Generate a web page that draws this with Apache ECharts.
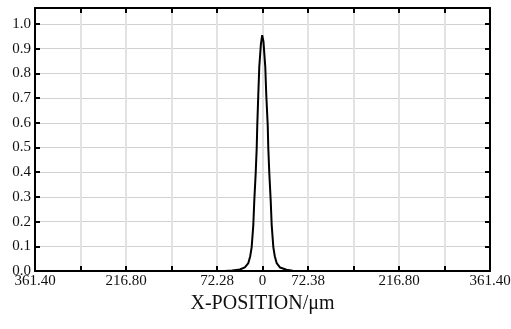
<!DOCTYPE html>
<html>
<head>
<meta charset="utf-8">
<script src="https://cdn.jsdelivr.net/npm/echarts@6/dist/echarts.min.js"></script>
<style>
  html, body { margin: 0; padding: 0; background: #fff; }
  #chart { width: 511px; height: 329px; }
</style>
</head>
<body>
<div id="chart"></div>
<script>
// beam profile
const xPositions = [-361.4, -80, -60, -48, -36, -28, -22.5, -19.5, -17.2, -14.6, -13.0, -10.8, -9.2, -8.3, -6.7, -5.1, -2.5, -0.5,
  1.5, 4.4, 6.0, 8.3, 9.2, 10.8, 13.0, 14.6, 17.2, 19.5, 22.5, 28, 38, 48, 60, 80, 361.4];
const intensity = [0, 0, 0, 0.002, 0.006, 0.015, 0.032, 0.06, 0.097, 0.186, 0.287, 0.397, 0.498, 0.59, 0.713, 0.827, 0.92, 0.955,
  0.93, 0.827, 0.713, 0.59, 0.498, 0.397, 0.287, 0.186, 0.097, 0.06, 0.032, 0.014, 0.005, 0.001, 0, 0, 0];
const xTickLabels = ["361.40", "", "216.80", "", "72.28", "0", "72.38", "", "216.80", "", "361.40"];
const xStep = 72.28;

const chart = echarts.init(document.getElementById("chart"), null, { renderer: "canvas" });
const font = "Liberation Serif";

const inTick = { show: true, inside: true, length: 5, lineStyle: { color: "#000", width: 2 } };
const frame = { show: true, onZero: false, lineStyle: { color: "#000", width: 2 } };

chart.setOption({
  animation: false,
  grid: { left: 35, right: 21, top: 8, bottom: 58, outerBoundsMode: "none", containLabel: false },
  xAxis: [
    {
      type: "value",
      position: "bottom",
      min: -5 * xStep,
      max: 5 * xStep,
      interval: xStep,
      axisLine: frame,
      axisTick: inTick,
      splitLine: { show: true, lineStyle: { color: "#e2e2e2", width: 2 } },
      axisLabel: {
        color: "#111",
        fontFamily: font,
        fontSize: 15,
        margin: 3,
        formatter: (v) => xTickLabels[Math.round(v / xStep) + 5] || ""
      },
      name: "X-POSITION/μm",
      nameLocation: "middle",
      nameGap: 23,
      nameTextStyle: { color: "#111", fontFamily: font, fontSize: 20 }
    },
    {
      type: "value",
      position: "top",
      min: -5 * xStep,
      max: 5 * xStep,
      interval: xStep,
      axisLine: frame,
      axisTick: inTick,
      splitLine: { show: false },
      axisLabel: { show: false }
    }
  ],
  yAxis: [
    {
      type: "value",
      position: "left",
      min: 0,
      max: 1.065,
      interval: 0.1,
      axisLine: frame,
      axisTick: inTick,
      splitLine: { show: true, lineStyle: { color: "#d2d2d2", width: 1 } },
      axisLabel: {
        color: "#111",
        fontFamily: font,
        fontSize: 15,
        margin: 4,
        formatter: (v) => (v > 1.01 ? "" : v.toFixed(1))
      }
    },
    {
      type: "value",
      position: "right",
      min: 0,
      max: 1.065,
      interval: 0.1,
      axisLine: frame,
      axisTick: inTick,
      splitLine: { show: false },
      axisLabel: { show: false }
    }
  ],
  series: [
    {
      type: "line",
      data: xPositions.map((x, i) => [x, intensity[i]]),
      showSymbol: false,
      smooth: false,
      lineStyle: { color: "#000", width: 2 }
    }
  ]
});
</script>
</body>
</html>
